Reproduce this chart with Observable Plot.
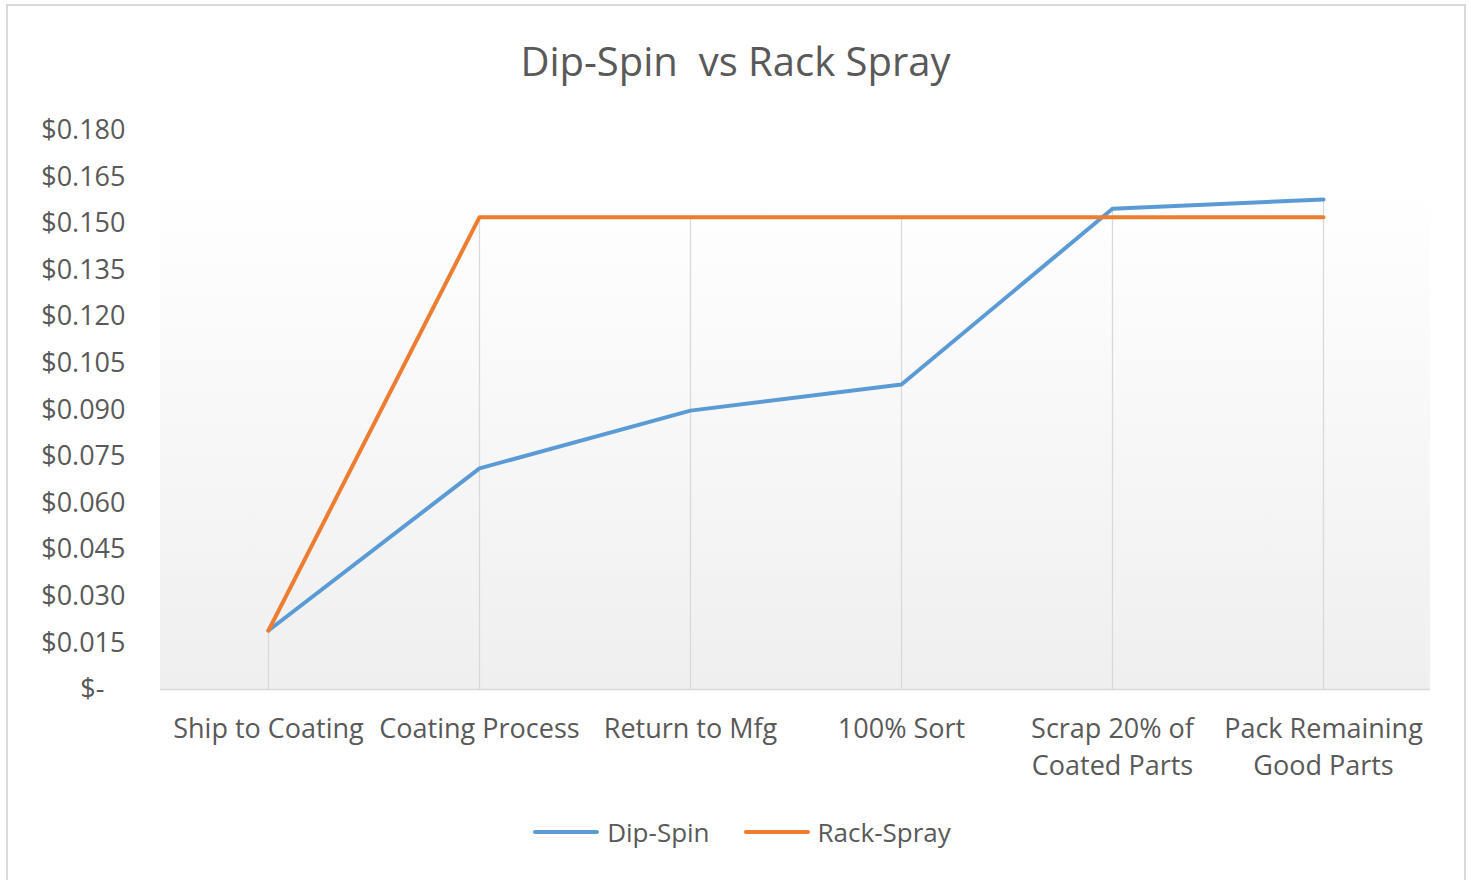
<!DOCTYPE html>
<html>
<head>
<meta charset="utf-8">
<script src="https://cdn.jsdelivr.net/npm/d3@7"></script>
<script src="https://cdn.jsdelivr.net/npm/@observablehq/plot@0.6"></script>
<style>
  html, body { margin: 0; padding: 0; background: #fff; }
  body { width: 1471px; height: 880px; position: relative; overflow: hidden; font-family: "Open Sans", sans-serif; }
  #frame { position: absolute; left: 6px; top: 4px; width: 1460px; height: 890px; border: 2px solid #d9d9d9; box-sizing: border-box; }
  #title { position: absolute; left: 0; top: 41px; width: 1471px; text-align: center; font-size: 40px; color: #595959; white-space: pre; line-height: 1; }
  #chart { position: absolute; left: 0; top: 100px; }
  #legend { position: absolute; left: 0; top: 814px; width: 1484px; display: flex; justify-content: center; gap: 34px; font-size: 26px; color: #595959; }
  .item { display: flex; align-items: center; gap: 8px; }
  .sw { width: 66px; height: 4px; border-radius: 2px; }
</style>
</head>
<body>
<div id="frame"></div>
<div id="title">Dip-Spin  vs Rack Spray</div>
<div id="chart"></div>
<div id="legend"></div>
<script>
const categories = ["Ship to Coating", "Coating Process", "Return to Mfg", "100% Sort", "Scrap 20% of Coated Parts", "Pack Remaining Good Parts"];
const tickLabels = ["Ship to Coating", "Coating Process", "Return to Mfg", "100% Sort", "Scrap 20% of\nCoated Parts", "Pack Remaining\nGood Parts"];
const dipSpin = [0.019, 0.0712, 0.0898, 0.0982, 0.1548, 0.1578];
const rackSpray = [0.019, 0.1521, 0.1521, 0.1521, 0.1521, 0.1521];
const seriesNames = ["Dip-Spin", "Rack-Spray"];
const seriesColors = ["#5b9bd5", "#ed7d31"];
const yTicks = [0, 0.015, 0.03, 0.045, 0.06, 0.075, 0.09, 0.105, 0.12, 0.135, 0.15, 0.165, 0.18];
const plotAreaTop = 0.1615;

const rows = [];
categories.forEach((c, i) => {
  rows.push({cat: c, series: seriesNames[0], value: dipSpin[i]});
  rows.push({cat: c, series: seriesNames[1], value: rackSpray[i]});
});
const drops = categories.map((c, i) => ({cat: c, top: Math.max(dipSpin[i], rackSpray[i])}));

function gradientArea(index, scales, values, dimensions) {
  const ns = "http://www.w3.org/2000/svg";
  const g = document.createElementNS(ns, "g");
  const defs = document.createElementNS(ns, "defs");
  const lg = document.createElementNS(ns, "linearGradient");
  lg.setAttribute("id", "bgGrad");
  lg.setAttribute("x1", "0"); lg.setAttribute("y1", "0");
  lg.setAttribute("x2", "0"); lg.setAttribute("y2", "1");
  [["0%", "#ffffff"], ["100%", "#efefef"]].forEach(([o, c]) => {
    const s = document.createElementNS(ns, "stop");
    s.setAttribute("offset", o); s.setAttribute("stop-color", c);
    lg.appendChild(s);
  });
  defs.appendChild(lg);
  g.appendChild(defs);
  const r = document.createElementNS(ns, "rect");
  const yTop = scales.y(plotAreaTop), yBot = scales.y(0);
  r.setAttribute("x", dimensions.marginLeft);
  r.setAttribute("y", yTop);
  r.setAttribute("width", dimensions.width - dimensions.marginLeft - dimensions.marginRight);
  r.setAttribute("height", yBot - yTop);
  r.setAttribute("fill", "url(#bgGrad)");
  g.appendChild(r);
  return g;
}

const chart = Plot.plot({
  width: 1471,
  height: 700,
  marginTop: 30,
  marginBottom: 111,
  marginLeft: 160,
  marginRight: 41,
  style: {fontFamily: "Open Sans, sans-serif", fontSize: "27px", color: "#595959", background: "transparent"},
  x: {type: "point", domain: categories, padding: 0.5},
  y: {domain: [0, 0.18]},
  color: {domain: seriesNames, range: seriesColors},
  marks: [
    gradientArea,
    Plot.ruleX(drops, {x: "cat", y1: 0, y2: "top", stroke: "#d9d9d9", strokeWidth: 1.3}),
    Plot.ruleY([0], {stroke: "#d9d9d9", strokeWidth: 1.5}),
    Plot.axisY({ticks: yTicks, tickSize: 0, tickPadding: 35, label: null, fontSize: 27,
      tickFormat: d => d === 0 ? "$-\u00a0\u00a0\u00a0" : "$" + d.toFixed(3), fill: "#595959"}),
    Plot.axisX({tickSize: 0, tickPadding: 22, label: null, lineHeight: 1.37, fontSize: 27,
      tickFormat: d => tickLabels[categories.indexOf(d)], fill: "#595959"}),
    Plot.line(rows, {x: "cat", y: "value", z: "series", stroke: "series", strokeWidth: 4, strokeLinejoin: "round", strokeLinecap: "round"})
  ]
});
document.getElementById("chart").appendChild(chart);

const legend = document.getElementById("legend");
seriesNames.forEach((n, i) => {
  const item = document.createElement("div");
  item.className = "item";
  const sw = document.createElement("div");
  sw.className = "sw";
  sw.style.background = seriesColors[i];
  const t = document.createElement("span");
  t.textContent = n;
  item.appendChild(sw); item.appendChild(t);
  legend.appendChild(item);
});
</script>
</body>
</html>
